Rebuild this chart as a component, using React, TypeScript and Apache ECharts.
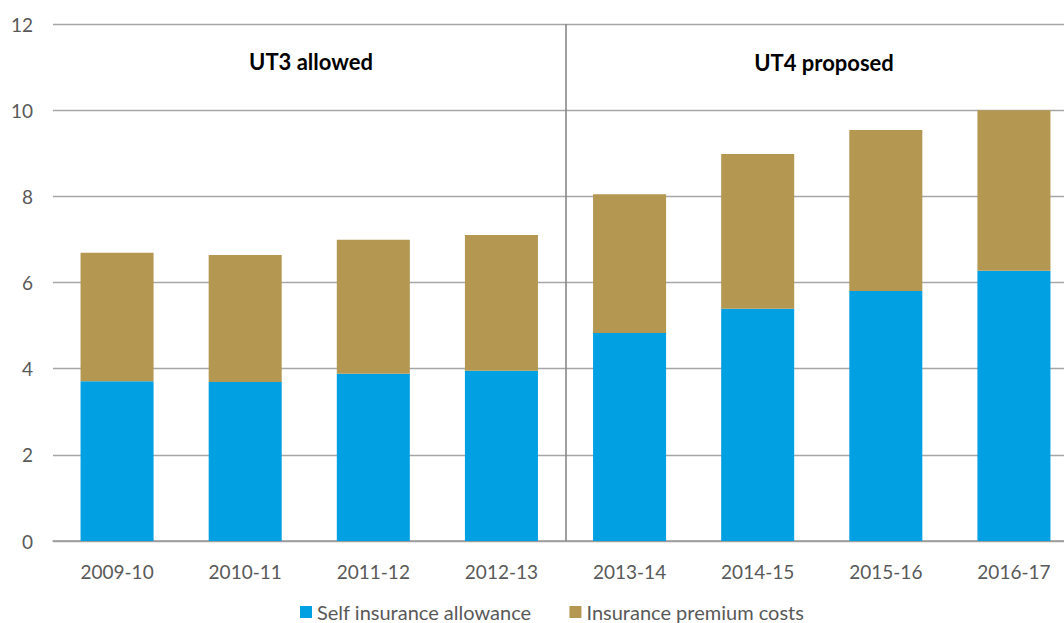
import React, { useEffect, useRef } from "react";
import * as echarts from "echarts";

const categories = ["2009-10", "2010-11", "2011-12", "2012-13", "2013-14", "2014-15", "2015-16", "2016-17"];
const selfInsurance = [3.71, 3.69, 3.88, 3.95, 4.83, 5.39, 5.80, 6.27];
const premiumCosts = [2.98, 2.95, 3.11, 3.15, 3.22, 3.59, 3.74, 3.73];
const yTicks = { min: 0, max: 12, interval: 2 };
const dividerAt = 3.5;
const periodLabels = ["UT3 allowed", "UT4 proposed"];

const FONT = "Lato, 'Open Sans', sans-serif";

export default function App() {
  const ref = useRef<HTMLDivElement>(null);
  useEffect(() => {
    if (!ref.current) return;
    const chart = echarts.init(ref.current, undefined, { renderer: "svg" });
    chart.setOption({
      animation: false,
      grid: { left: 53, top: 24, width: 1025, height: 517, containLabel: false },
      legend: {
        bottom: 0,
        padding: 0,
        left: 300,
        itemWidth: 12,
        itemHeight: 12,
        itemGap: 38,
        icon: "rect",
        textStyle: { fontFamily: FONT, fontSize: 20, lineHeight: 22, color: "#595959" },
        data: ["Self insurance allowance", "Insurance premium costs"],
      },
      xAxis: [
        {
          type: "category",
          data: categories,
          axisTick: { show: false },
          axisLine: { lineStyle: { color: "#999999", width: 1.5 } },
          axisLabel: { margin: 21, fontFamily: FONT, fontSize: 19, color: "#595959" },
        },
        { type: "value", min: -0.5, max: 7.5, show: false },
      ],
      yAxis: {
        type: "value",
        min: yTicks.min,
        max: yTicks.max,
        interval: yTicks.interval,
        axisLine: { show: false },
        axisTick: { show: false },
        axisLabel: { margin: 20, fontFamily: FONT, fontSize: 19, color: "#595959" },
        splitLine: { lineStyle: { color: "#a6a6a6", width: 1.3 } },
      },
      series: [
        {
          name: "Self insurance allowance",
          type: "bar",
          stack: "total",
          data: selfInsurance,
          barCategoryGap: "43%",
          itemStyle: { color: "#00a0e2" },
        },
        {
          name: "Insurance premium costs",
          type: "bar",
          stack: "total",
          data: premiumCosts,
          barCategoryGap: "43%",
          itemStyle: { color: "#b49852" },
        },
        {
          type: "scatter",
          xAxisIndex: 1,
          data: [],
          markLine: {
            silent: true,
            symbol: "none",
            label: { show: false },
            lineStyle: { color: "#808080", type: "solid", width: 1.5 },
            data: [{ xAxis: dividerAt }],
          },
        },
      ],
      graphic: [
        {
          type: "text",
          x: 311,
          y: 61,
          style: {
            text: periodLabels[0],
            fontFamily: FONT,
            fontWeight: "bold",
            fontSize: 22,
            fill: "#000",
            align: "center",
            verticalAlign: "middle",
          },
        },
        {
          type: "text",
          x: 824,
          y: 62,
          style: {
            text: periodLabels[1],
            fontFamily: FONT,
            fontWeight: "bold",
            fontSize: 22,
            fill: "#000",
            align: "center",
            verticalAlign: "middle",
          },
        },
      ],
    });
    return () => chart.dispose();
  }, []);
  return (
    <div style={{ position: "absolute", left: 0, top: 0, width: 1064, height: 623, overflow: "hidden", background: "#fff" }}>
      <div ref={ref} style={{ width: 1100, height: 623 }} />
    </div>
  );
}
